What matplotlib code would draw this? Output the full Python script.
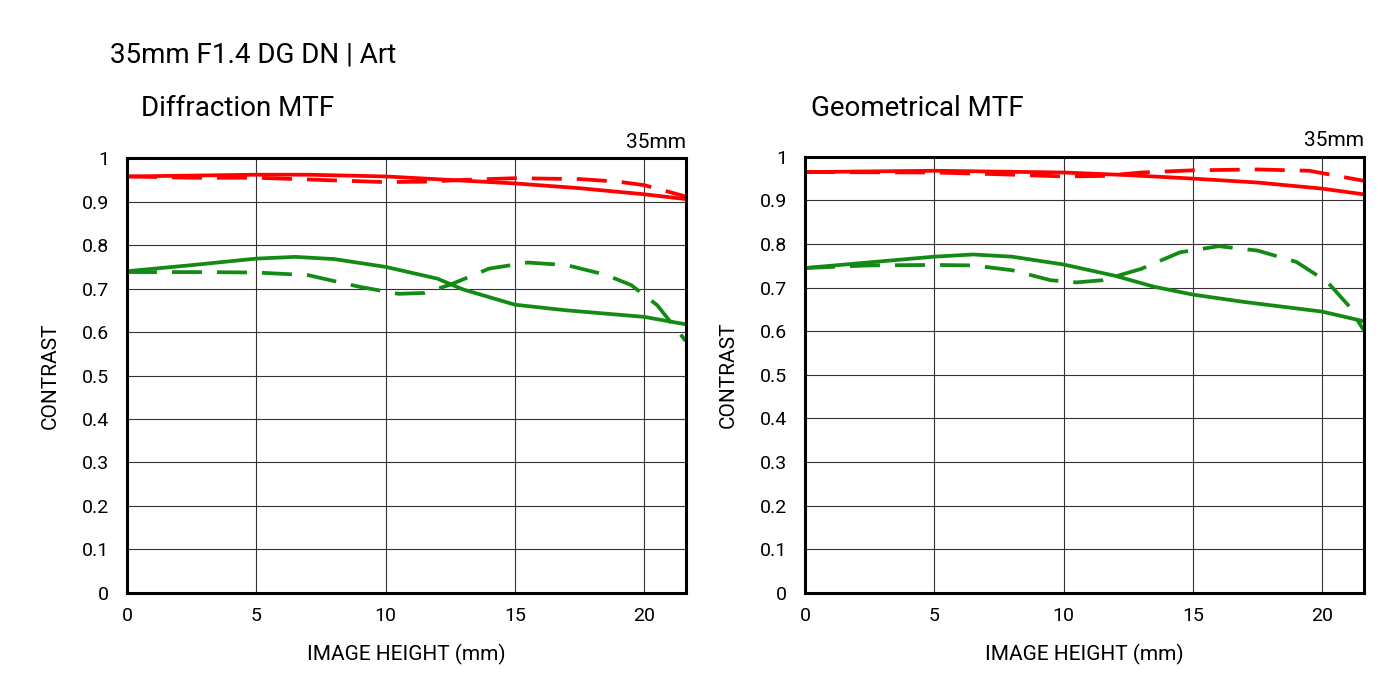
import matplotlib
matplotlib.use("Agg")
import matplotlib.pyplot as plt

plt.rcParams['font.family'] = ['Roboto', 'DejaVu Sans']

# Diffraction MTF
diff_red_solid_x = [0, 5, 7, 10, 12.5, 15, 17.5, 20, 21.6]
diff_red_solid_y = [0.958, 0.962, 0.962, 0.958, 0.95, 0.942, 0.931, 0.917, 0.906]
diff_red_dash_x = [0, 2.5, 5, 7.5, 10, 11.5, 13, 15, 17.5, 19, 20, 21.6]
diff_red_dash_y = [0.958, 0.955, 0.955, 0.95, 0.945, 0.946, 0.95, 0.954, 0.952, 0.946, 0.938, 0.912]
diff_green_solid_x = [0, 2.5, 5, 6.5, 8, 10, 12, 13, 15, 17, 20, 21.6]
diff_green_solid_y = [0.74, 0.754, 0.769, 0.773, 0.768, 0.75, 0.723, 0.698, 0.663, 0.65, 0.635, 0.618]
diff_green_dash_x = [0, 3, 5, 7, 9, 10.5, 11.5, 12.5, 14, 15.5, 17, 18.5, 19.5, 20.5, 21.6]
diff_green_dash_y = [0.738, 0.738, 0.737, 0.731, 0.704, 0.688, 0.69, 0.709, 0.746, 0.76, 0.754, 0.732, 0.708, 0.662, 0.58]

# Geometrical MTF
geo_red_solid_x = [0, 5, 10, 12.5, 15, 17.5, 20, 21.6]
geo_red_solid_y = [0.965, 0.968, 0.964, 0.958, 0.95, 0.941, 0.927, 0.914]
geo_red_dash_x = [0, 5, 7.5, 10, 11.5, 13, 15, 17.5, 19.5, 21.6]
geo_red_dash_y = [0.965, 0.964, 0.96, 0.955, 0.956, 0.964, 0.969, 0.971, 0.968, 0.945]
geo_green_solid_x = [0, 2.5, 5, 6.5, 8, 10, 12, 13.5, 15, 17, 20, 21.6]
geo_green_solid_y = [0.745, 0.758, 0.771, 0.776, 0.771, 0.753, 0.727, 0.702, 0.684, 0.667, 0.645, 0.623]
geo_green_dash_x = [0, 2.5, 5, 6.5, 8, 9.5, 10.5, 11.5, 13, 14.5, 16, 17.5, 19, 20.2, 21, 21.6]
geo_green_dash_y = [0.745, 0.751, 0.752, 0.751, 0.74, 0.717, 0.712, 0.717, 0.743, 0.781, 0.795, 0.785, 0.759, 0.713, 0.66, 0.603]

x_ticks = [0, 5, 10, 15, 20]
y_ticks = [0, 0.1, 0.2, 0.3, 0.4, 0.5, 0.6, 0.7, 0.8, 0.9, 1]
y_labels = ['0', '0.1', '0.2', '0.3', '0.4', '0.5', '0.6', '0.7', '0.8', '0.9', '1']

RED = '#ff0000'
GREEN = '#138a13'

fig = plt.figure(figsize=(14, 7), dpi=100)
ax1 = fig.add_axes([0.0907, 0.153, 0.399, 0.621])
ax2 = fig.add_axes([0.575, 0.153, 0.399, 0.623])

panels = [
    (ax1, 'Diffraction MTF', 141, diff_red_solid_x, diff_red_solid_y, diff_red_dash_x, diff_red_dash_y,
     diff_green_solid_x, diff_green_solid_y, diff_green_dash_x, diff_green_dash_y),
    (ax2, 'Geometrical MTF', 811, geo_red_solid_x, geo_red_solid_y, geo_red_dash_x, geo_red_dash_y,
     geo_green_solid_x, geo_green_solid_y, geo_green_dash_x, geo_green_dash_y),
]

for ax, title, title_x, rsx, rsy, rdx, rdy, gsx, gsy, gdx, gdy in panels:
    ax.plot(rsx, rsy, color=RED, lw=2.7)
    ax.plot(rdx, rdy, color=RED, lw=2.7, dashes=(8, 4))
    ax.plot(gsx, gsy, color=GREEN, lw=2.7)
    ax.plot(gdx, gdy, color=GREEN, lw=2.7, dashes=(8, 4))
    ax.set_xlim(0, 21.6)
    ax.set_ylim(0, 1)
    ax.set_xticks(x_ticks)
    ax.set_yticks(y_ticks)
    ax.set_yticklabels(y_labels)
    ax.grid(True, color='#333333', lw=0.8)
    ax.set_axisbelow(True)
    ax.tick_params(length=0, labelsize=14)
    ax.tick_params(axis='y', pad=13)
    ax.tick_params(axis='x', pad=10)
    for s in ax.spines.values():
        s.set_linewidth(2.2)
        s.set_color('black')
    ax.set_xlabel('IMAGE HEIGHT (mm)', fontsize=15, labelpad=14)
    ax.set_ylabel('CONTRAST', fontsize=15, labelpad=16)
    ax.text(1.0, 1.015, '35mm', transform=ax.transAxes, ha='right', va='bottom', fontsize=15)
    fig.text(title_x / 1400, 1 - 108 / 700, title, ha='left', va='center', fontsize=20)

fig.text(110 / 1400, 1 - 55 / 700, '35mm F1.4 DG DN | Art', ha='left', va='center', fontsize=20)

fig.savefig('out.png', dpi=100, facecolor='white')
